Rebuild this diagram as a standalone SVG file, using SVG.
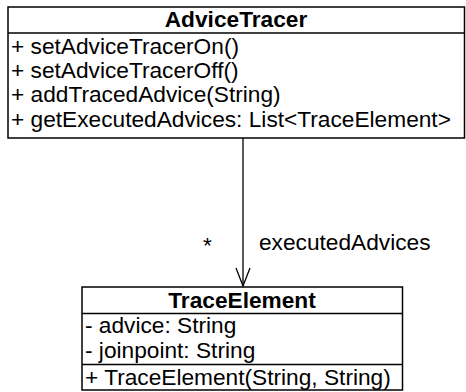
<svg xmlns="http://www.w3.org/2000/svg" width="466" height="392" viewBox="0 0 466 392">
<style>
.box{fill:#fff;stroke:#000;stroke-width:1.5}
.div{stroke:#000;stroke-width:1.5}
.t{font-family:"Liberation Sans",Arial,Helvetica,sans-serif;font-size:22.7px;fill:#000}
.b{font-weight:bold;text-anchor:middle}
.edge{stroke:#000;stroke-width:1.3;fill:none}
</style>
<rect width="466" height="392" fill="#fff"/>
<g id="AdviceTracer">
<rect class="box" x="8" y="7" width="456.5" height="131"/>
<line class="div" x1="8" y1="33" x2="464.5" y2="33"/>
<text class="t b" x="236" y="27">AdviceTracer</text>
<text class="t" x="11" y="54">+ setAdviceTracerOn()</text>
<text class="t" x="11" y="78">+ setAdviceTracerOff()</text>
<text class="t" x="11" y="102">+ addTracedAdvice(String)</text>
<text class="t" x="11" y="127">+ getExecutedAdvices: List&lt;TraceElement&gt;</text>
</g>
<g id="TraceElement">
<rect class="box" x="82" y="287" width="320.5" height="103"/>
<line class="div" x1="82" y1="313.5" x2="402.5" y2="313.5"/>
<line class="div" x1="82" y1="364.5" x2="402.5" y2="364.5"/>
<text class="t b" x="242" y="308">TraceElement</text>
<text class="t" x="85" y="333">- advice: String</text>
<text class="t" x="85" y="358">- joinpoint: String</text>
<text class="t" x="85" y="385">+ TraceElement(String, String)</text>
</g>
<g id="connectors">
<line class="edge" x1="243" y1="138" x2="243" y2="286"/>
<polyline class="edge" points="236,268 243,286 250,268"/>
<text class="t" x="203" y="253">*</text>
<text class="t" x="259" y="250">executedAdvices</text>
</g>
</svg>
